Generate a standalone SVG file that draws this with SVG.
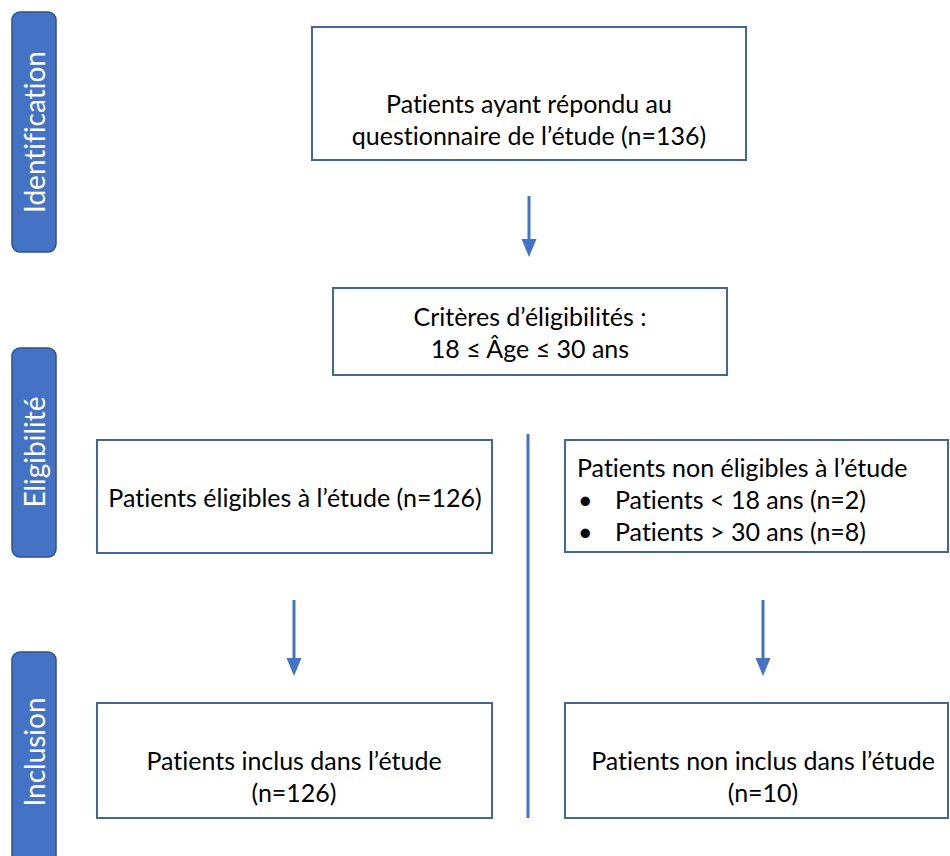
<svg xmlns="http://www.w3.org/2000/svg" width="950" height="856" viewBox="0 0 950 856">
<style>
.bar{fill:#4472C4;stroke:#2F528F;stroke-width:1.5}
.bt{fill:#fff;font-family:Lato,"Liberation Sans",sans-serif;font-size:28px;text-anchor:middle;dominant-baseline:central;font-variant-ligatures:none}
.box{fill:#fff;stroke:#41669C;stroke-width:2}
.t{fill:#000;font-family:Lato,"Liberation Sans",sans-serif;font-size:25px;text-anchor:middle;dominant-baseline:central;font-variant-ligatures:none}
.tl{fill:#000;font-family:Lato,"Liberation Sans",sans-serif;font-size:25px;dominant-baseline:central;font-variant-ligatures:none}
.ar{stroke:#4472C4;stroke-width:3;fill:none}
</style>
<defs>
<marker id="ah" markerWidth="6" markerHeight="6" refX="3" refY="3" orient="auto" markerUnits="strokeWidth">
<path d="M0,0.5 L6,3 L0,5.5 Z" fill="#4472C4"/>
</marker>
</defs>
<rect width="950" height="856" fill="#fff"/>
<g id="bar-identification">
<rect class="bar" x="12" y="12" width="44" height="240" rx="8"/>
<text class="bt" transform="translate(34,132) rotate(-90)">Identification</text>
</g>
<g id="bar-eligibilite">
<rect class="bar" x="12" y="348" width="44" height="209" rx="8"/>
<text class="bt" transform="translate(34,452) rotate(-90)">Eligibilité</text>
</g>
<g id="bar-inclusion">
<rect class="bar" x="12" y="652" width="44" height="220" rx="8"/>
<text class="bt" transform="translate(34,752) rotate(-90)">Inclusion</text>
</g>
<g id="connectors">
<line class="ar" x1="529" y1="196" x2="529" y2="248" marker-end="url(#ah)"/>
<line class="ar" x1="294" y1="600" x2="294" y2="667" marker-end="url(#ah)"/>
<line class="ar" x1="763" y1="600" x2="763" y2="667" marker-end="url(#ah)"/>
<line class="ar" x1="528" y1="434" x2="528" y2="818"/>
</g>
<g id="node-questionnaire">
<rect class="box" x="312" y="27" width="434" height="133"/>
<text class="t" x="529" y="103">Patients ayant répondu au</text>
<text class="t" x="529" y="135">questionnaire de l’étude (n=136)</text>
</g>
<g id="node-criteres">
<rect class="box" x="333" y="288" width="394" height="87"/>
<text class="t" x="530" y="316">Critères d’éligibilités :</text>
<text class="t" x="530" y="348">18 ≤ Âge ≤ 30 ans</text>
</g>
<g id="node-eligibles">
<rect class="box" x="97" y="440" width="395" height="113"/>
<text class="t" x="295" y="497">Patients éligibles à l’étude (n=126)</text>
</g>
<g id="node-non-eligibles">
<rect class="box" x="565" y="440" width="383" height="112"/>
<text class="tl" x="577" y="467">Patients non éligibles à l’étude</text>
<text class="tl" x="578" y="499" font-size="21">•</text>
<text class="tl" x="615" y="499">Patients &lt; 18 ans (n=2)</text>
<text class="tl" x="578" y="531" font-size="21">•</text>
<text class="tl" x="615" y="531">Patients &gt; 30 ans (n=8)</text>
</g>
<g id="node-inclus">
<rect class="box" x="97" y="703" width="395" height="115"/>
<text class="t" x="294" y="760">Patients inclus dans l’étude</text>
<text class="t" x="294" y="792">(n=126)</text>
</g>
<g id="node-non-inclus">
<rect class="box" x="565" y="703" width="383" height="115"/>
<text class="t" x="763" y="760">Patients non inclus dans l’étude</text>
<text class="t" x="763" y="792">(n=10)</text>
</g>
</svg>
